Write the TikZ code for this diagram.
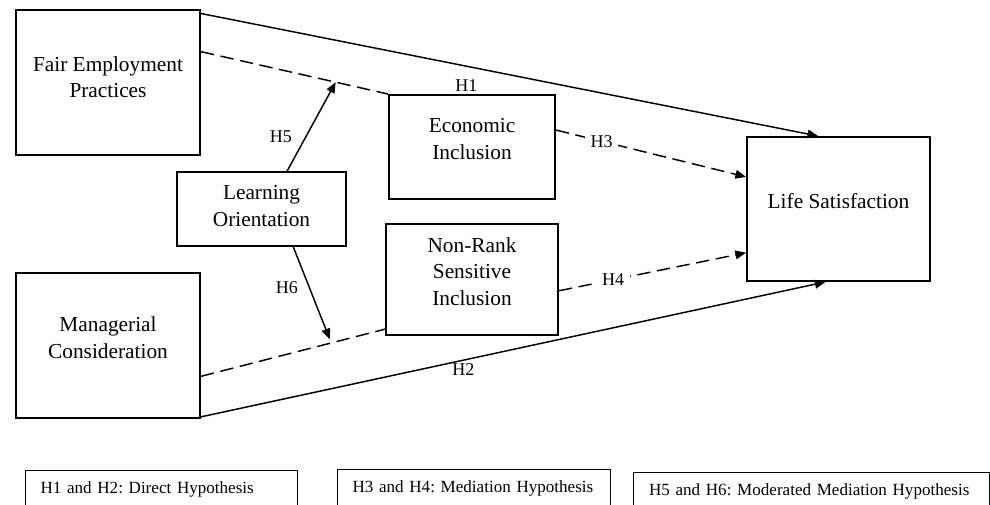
\documentclass[tikz,border=0pt]{standalone}
\usepackage{fontspec}
\setmainfont{Liberation Serif}
\usetikzlibrary{positioning, calc, arrows.meta}

\begin{document}
\begin{tikzpicture}[
  x=0.75pt, y=-0.75pt,
  >={Triangle[length=8pt, width=6.5pt]},
  box/.style={draw, line width=1.4pt, inner sep=0pt},
  boxtext/.style={align=center, inner sep=0pt, font=\fontsize{16}{20}\selectfont},
  link/.style={line width=1.1pt},
  dashlink/.style={line width=1.1pt, dash pattern=on 10pt off 5pt},
  hyp/.style={inner sep=1pt, font=\fontsize{13.5}{16}\selectfont},
  keybox/.style={draw, line width=0.8pt, anchor=north west, align=left,
    inner xsep=11.25pt, minimum height=28pt, font=\fontsize{12.8}{15}\selectfont\frenchspacing}]

  \useasboundingbox (0,0) rectangle (990,505);

  \node[box, minimum width=138pt, minimum height=108.75pt] (fep) at (108,82.5) {};
  \node[box, minimum width=138pt, minimum height=108.75pt] (mgr) at (108,345.5) {};
  \node[box, minimum width=126.75pt, minimum height=55.5pt] (learn) at (261.5,209) {};
  \node[box, minimum width=124.5pt, minimum height=78pt] (econ) at (472,147) {};
  \node[box, minimum width=129pt, minimum height=83.25pt] (nrsi) at (472,279.5) {};
  \node[box, minimum width=137.25pt, minimum height=108pt] (life) at (838.5,209) {};

  \node[boxtext] (fepT) at ([yshift=3.9pt]fep.center) {Fair Employment\\Practices};
  \node[boxtext] (mgrT) at ([yshift=5.6pt]mgr.center) {Managerial\\Consideration};
  \node[boxtext] (learnT) at ([yshift=2pt]learn.center) {Learning\\Orientation};
  \node[boxtext] (econT) at ([yshift=6pt]econ.center) {Economic\\Inclusion};
  \node[boxtext] (nrsiT) at ([yshift=6pt]nrsi.center) {Non-Rank\\Sensitive\\Inclusion};
  \node[boxtext] (lifeT) at ([yshift=6pt]life.center) {Life Satisfaction};

  \draw[link, ->] ($(fep.north east)!.03!(fep.south east)$)
    -- node[hyp, below=8.5pt, pos=.43] (h1) {H1} ($(life.north west)!.39!(life.north east)$);
  \draw[link, ->] ($(mgr.north east)!.986!(mgr.south east)$)
    -- node[hyp, below=1pt, pos=.42] (h2) {H2} ($(life.south west)!.43!(life.south east)$);

  \draw[dashlink] ($(fep.north east)!.29!(fep.south east)$) -- coordinate[pos=.72] (m5) (econ.north west);
  \draw[dashlink] ($(mgr.north east)!.71!(mgr.south east)$) -- coordinate[pos=.70] (m6) ($(nrsi.north west)!.94!(nrsi.south west)$);

  \draw[link, ->] ($(learn.north west)!.65!(learn.north east)$) -- node[hyp, left=9pt, pos=.39] (h5) {H5} (m5);
  \draw[link, ->] ($(learn.south west)!.686!(learn.south east)$) -- node[hyp, left=7pt, pos=.44] (h6) {H6} ([yshift=3pt]m6);

  \draw[dashlink, ->] ($(econ.north east)!.34!(econ.south east)$)
    -- node[hyp, fill=white, inner xsep=4pt, pos=.24] (h3) {H3} ($(life.north west)!.28!(life.south west)$);
  \draw[dashlink, ->] ($(nrsi.north east)!.60!(nrsi.south east)$)
    -- node[hyp, fill=white, inner xsep=4pt, pos=.29] (h4) {H4} ($(life.north west)!.80!(life.south west)$);

  \node[keybox, text width=181.5pt] (key1) at (25,470) {H1 and H2: Direct Hypothesis};
  \node[keybox, text width=182.25pt] (key2) at (337,469) {H3 and H4: Mediation Hypothesis};
  \node[keybox, text width=243pt, inner xsep=12pt] (key3) at (632.5,472) {H5 and H6: Moderated Mediation Hypothesis};
\end{tikzpicture}
\end{document}
